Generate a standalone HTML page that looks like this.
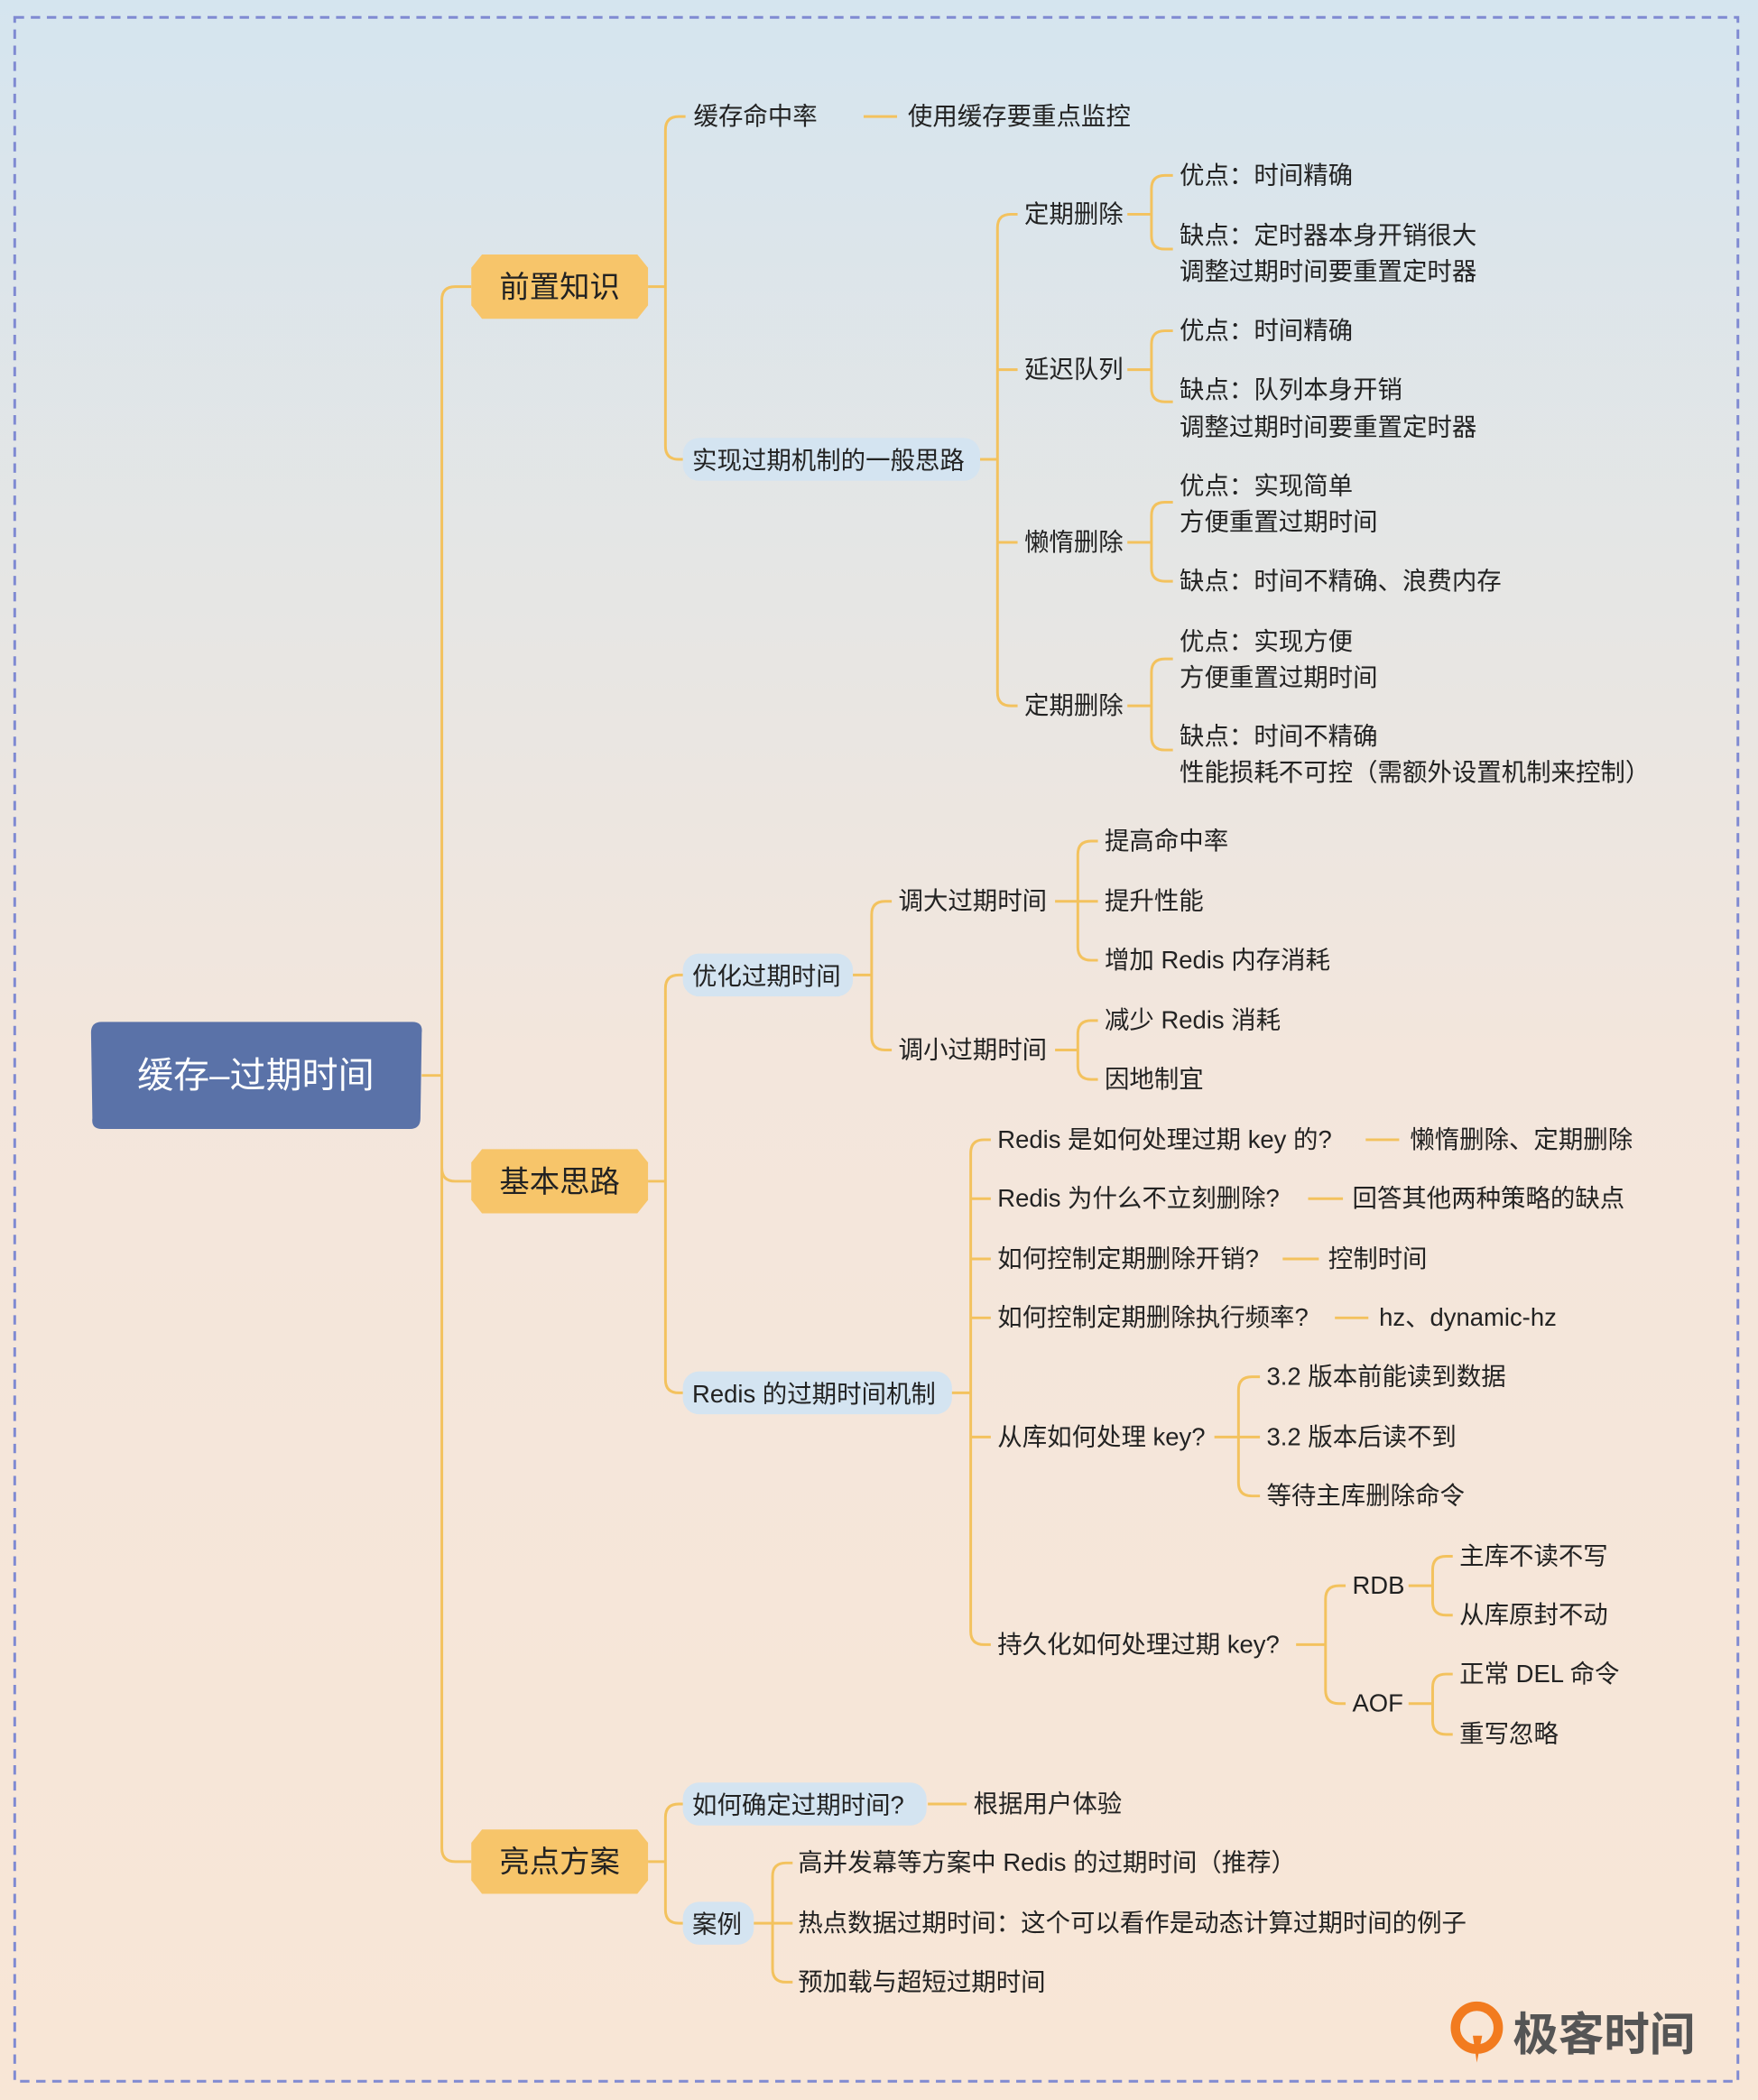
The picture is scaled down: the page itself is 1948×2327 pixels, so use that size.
<!DOCTYPE html>
<html><head><meta charset="utf-8"><style>
html,body{margin:0;padding:0;}
body{width:1948px;height:2327px;overflow:hidden;}
svg{display:block;}
text{font-family:"Liberation Sans","Noto Sans CJK SC",sans-serif;fill:#222;}
</style></head><body>
<svg width="1948" height="2327" viewBox="0 0 1313 1568" preserveAspectRatio="none" xmlns="http://www.w3.org/2000/svg">
<defs>
<linearGradient id="bg" x1="0" y1="0" x2="0" y2="1">
<stop offset="0" stop-color="#d5e5ef"/>
<stop offset="0.5" stop-color="#f3e6dc"/>
<stop offset="1" stop-color="#f8e6d6"/>
</linearGradient>
</defs>
<rect x="0" y="0" width="1313" height="1568" fill="url(#bg)"/>
<rect x="11" y="13" width="1287" height="1541" fill="none" stroke="#7f8ad2" stroke-width="2" stroke-dasharray="7,5"/>

<g fill="none" stroke="#f3c25e" stroke-width="2">
<path d="M315 803 H330 M330 224 V1380 M330 224 Q330 214 340 214 H352 M330 872 Q330 882 340 882 H352 M330 1380 Q330 1390 340 1390 H352"/>
<path d="M484 214 H497 M497 97 V333 M497 97 Q497 87 507 87 H512 M497 333 Q497 343 507 343 H512"/>
<path d="M645 87 H670"/>
<path d="M730 343 H745 M745 170 V517 M745 170 Q745 160 755 160 H760 M745 266 V286 M745 276 H760 M745 395 V415 M745 405 H760 M745 517 Q745 527 755 527 H760"/>
<path d="M842 160 H860 M860 141 V176 M860 141 Q860 131 870 131 H876 M860 176 Q860 186 870 186 H876"/>
<path d="M842 276 H860 M860 257 V290 M860 257 Q860 247 870 247 H876 M860 290 Q860 300 870 300 H876"/>
<path d="M842 405 H860 M860 385 V424 M860 385 Q860 375 870 375 H876 M860 424 Q860 434 870 434 H876"/>
<path d="M842 527 H860 M860 502 V550 M860 502 Q860 492 870 492 H876 M860 550 Q860 560 870 560 H876"/>
<path d="M484 882 H497 M497 738 V1030 M497 738 Q497 728 507 728 H512 M497 1030 Q497 1040 507 1040 H512"/>
<path d="M636 728 H651 M651 683 V774 M651 683 Q651 673 661 673 H666 M651 774 Q651 784 661 784 H666"/>
<path d="M788 673 H805 M805 638 V707 M805 638 Q805 628 815 628 H820 M805 673 H820 M805 707 Q805 717 815 717 H820"/>
<path d="M788 784 H805 M805 772 V796 M805 772 Q805 762 815 762 H820 M805 796 Q805 806 815 806 H820"/>
<path d="M710 1040 H725 M725 861 V1218 M725 861 Q725 851 735 851 H740 M725 895 H740 M725 940 H740 M725 984 H740 M725 1073 H740 M725 1218 Q725 1228 735 1228 H740"/>
<path d="M1020 851 H1045 M977 895 H1003 M958 940 H985 M997 984 H1022"/>
<path d="M907 1073 H925 M925 1038 V1107 M925 1038 Q925 1028 935 1028 H941 M925 1073 H941 M925 1107 Q925 1117 935 1117 H941"/>
<path d="M968 1228 H990 M990 1194 V1262 M990 1194 Q990 1184 1000 1184 H1005 M990 1262 Q990 1272 1000 1272 H1005"/>
<path d="M1052 1184 H1070 M1070 1172 V1196 M1070 1172 Q1070 1162 1080 1162 H1085 M1070 1196 Q1070 1206 1080 1206 H1085"/>
<path d="M1052 1272 H1070 M1070 1260 V1285 M1070 1260 Q1070 1250 1080 1250 H1085 M1070 1285 Q1070 1295 1080 1295 H1085"/>
<path d="M484 1390 H497 M497 1357 V1426 M497 1357 Q497 1347 507 1347 H512 M497 1426 Q497 1436 507 1436 H512"/>
<path d="M693 1347 H722"/>
<path d="M562 1436 H577 M577 1401 V1470 M577 1401 Q577 1391 587 1391 H592 M577 1436 H592 M577 1470 Q577 1480 587 1480 H592"/>
</g>

<path d="M76 763 H308 Q316 763 315 771 L314 835 Q314 843 306 843 H76 Q68 843 69 835 L68 771 Q68 763 76 763 Z" fill="#5a72a8"/>
<text x="191" y="812" font-size="27" fill="#fff" style="fill:#fff" text-anchor="middle">缓存–过期时间</text>

<g fill="#f7c56a">
<path d="M352 200 L360 190 H476 L484 200 V228 L476 238 H360 L352 228 Z"/>
<path d="M352 868 L360 858 H476 L484 868 V896 L476 906 H360 L352 896 Z"/>
<path d="M352 1376 L360 1366 H476 L484 1376 V1404 L476 1414 H360 L352 1404 Z"/>
</g>
<g font-size="22.5" text-anchor="middle">
<text x="418" y="222">前置知识</text>
<text x="418" y="890">基本思路</text>
<text x="418" y="1398">亮点方案</text>
</g>

<g fill="#d4e4f1">
<rect x="510" y="327" width="222" height="32" rx="12"/>
<rect x="510" y="712" width="127" height="32" rx="12"/>
<rect x="510" y="1024" width="201" height="32" rx="12"/>
<rect x="510" y="1331" width="182" height="32" rx="12"/>
<rect x="510" y="1420" width="53" height="32" rx="12"/>
</g>

<g font-size="18.5">
<text x="518" y="93">缓存命中率</text>
<text x="678" y="93">使用缓存要重点监控</text>
<text x="517" y="350">实现过期机制的一般思路</text>
<text x="765" y="166">定期删除</text>
<text x="765" y="282">延迟队列</text>
<text x="765" y="411">懒惰删除</text>
<text x="765" y="533">定期删除</text>
<text x="881" y="137">优点：时间精确</text>
<text x="881" y="182">缺点：定时器本身开销很大</text>
<text x="881" y="209">调整过期时间要重置定时器</text>
<text x="881" y="253">优点：时间精确</text>
<text x="881" y="297">缺点：队列本身开销</text>
<text x="881" y="325">调整过期时间要重置定时器</text>
<text x="881" y="369">优点：实现简单</text>
<text x="881" y="396">方便重置过期时间</text>
<text x="881" y="440">缺点：时间不精确、浪费内存</text>
<text x="881" y="485">优点：实现方便</text>
<text x="881" y="512">方便重置过期时间</text>
<text x="881" y="556">缺点：时间不精确</text>
<text x="881" y="583">性能损耗不可控（需额外设置机制来控制）</text>

<text x="517" y="735">优化过期时间</text>
<text x="671" y="679">调大过期时间</text>
<text x="671" y="790">调小过期时间</text>
<text x="825" y="634">提高命中率</text>
<text x="825" y="679">提升性能</text>
<text x="825" y="723">增加 Redis 内存消耗</text>
<text x="825" y="768">减少 Redis 消耗</text>
<text x="825" y="812">因地制宜</text>

<text x="517" y="1047">Redis 的过期时间机制</text>
<text x="745" y="857">Redis 是如何处理过期 key 的?</text>
<text x="1053" y="857">懒惰删除、定期删除</text>
<text x="745" y="901">Redis 为什么不立刻删除?</text>
<text x="1010" y="901">回答其他两种策略的缺点</text>
<text x="745" y="946">如何控制定期删除开销?</text>
<text x="992" y="946">控制时间</text>
<text x="745" y="990">如何控制定期删除执行频率?</text>
<text x="1030" y="990">hz、dynamic-hz</text>
<text x="745" y="1079">从库如何处理 key?</text>
<text x="946" y="1034">3.2 版本前能读到数据</text>
<text x="946" y="1079">3.2 版本后读不到</text>
<text x="946" y="1123">等待主库删除命令</text>
<text x="745" y="1234">持久化如何处理过期 key?</text>
<text x="1010" y="1190">RDB</text>
<text x="1010" y="1278">AOF</text>
<text x="1090" y="1168">主库不读不写</text>
<text x="1090" y="1212">从库原封不动</text>
<text x="1090" y="1256">正常 DEL 命令</text>
<text x="1090" y="1301">重写忽略</text>

<text x="517" y="1354">如何确定过期时间?</text>
<text x="727" y="1353">根据用户体验</text>
<text x="517" y="1443">案例</text>
<text x="596" y="1397">高并发幕等方案中 Redis 的过期时间（推荐）</text>
<text x="596" y="1442">热点数据过期时间：这个可以看作是动态计算过期时间的例子</text>
<text x="596" y="1486">预加载与超短过期时间</text>
</g>

<circle cx="1103" cy="1514" r="16" fill="none" stroke="#f27b1f" stroke-width="7"/>
<path d="M1100 1520 L1103 1540 L1107 1520 Z" fill="#f27b1f"/>
<text x="1130" y="1531" font-size="34" font-weight="bold" style="fill:#555">极客时间</text>
</svg>
</body></html>
